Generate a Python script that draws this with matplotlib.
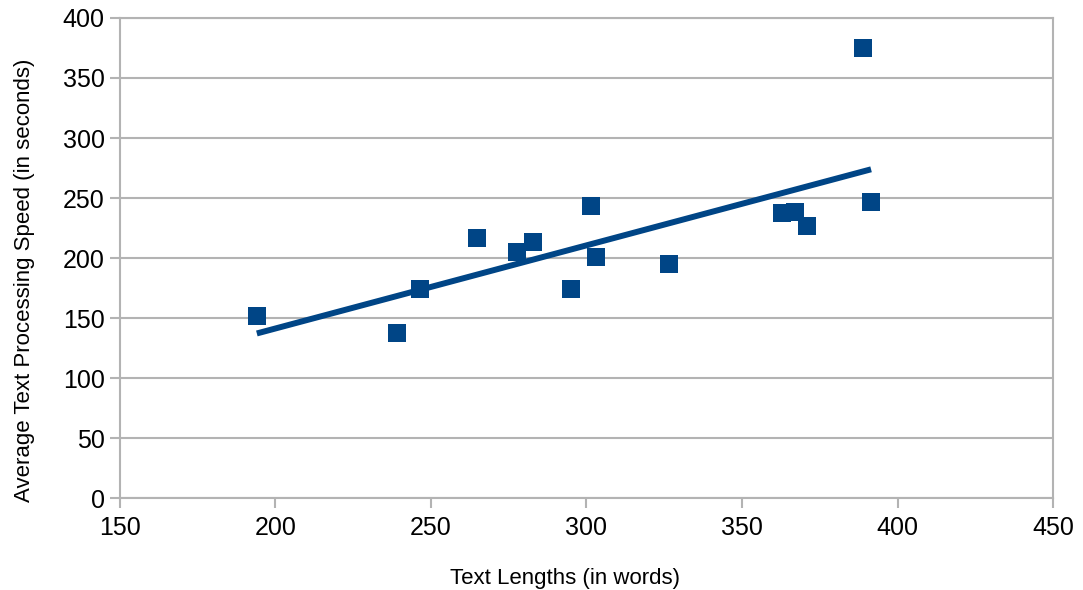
import numpy as np
import matplotlib
matplotlib.use("Agg")
import matplotlib.pyplot as plt

plt.rcParams['font.family'] = ['Liberation Sans', 'DejaVu Sans']

# Text length (words) vs. average processing time (seconds)
text_lengths = [194.0, 239.0, 246.5, 264.9, 277.8, 282.9, 294.9, 301.4,
                303.0, 326.5, 363.0, 367.0, 371.0, 388.9, 391.5]
processing_speed = [151.9, 137.8, 174.2, 216.7, 204.8, 213.3, 173.9, 243.6,
                    200.8, 194.8, 237.8, 238.1, 226.7, 374.8, 246.7]

x_ticks = [150, 200, 250, 300, 350, 400, 450]
y_ticks = [0, 50, 100, 150, 200, 250, 300, 350, 400]

blue = '#004586'
grid_gray = '#b3b3b3'

fig = plt.figure(figsize=(10.83, 5.90), dpi=100)
ax = fig.add_axes([0.1108, 0.1559, 0.8615, 0.8136])

x = np.array(text_lengths)
y = np.array(processing_speed)

# Linear trend line across the data range
slope, intercept = np.polyfit(x, y, 1)
xl = np.array([x.min(), x.max()])
ax.plot(xl, slope * xl + intercept, color=blue, lw=4.3, solid_capstyle='butt', zorder=3)

ax.plot(x, y, linestyle='none', marker='s', markersize=13.5,
        color=blue, markeredgewidth=0, zorder=4)

ax.set_xlim(150, 450)
ax.set_ylim(0, 400)
ax.set_xticks(x_ticks)
ax.set_yticks(y_ticks)

ax.yaxis.grid(True, color=grid_gray, lw=1.5)
ax.set_axisbelow(True)
for s in ax.spines.values():
    s.set_color(grid_gray)
    s.set_linewidth(1.5)

ax.tick_params(axis='both', direction='out', length=7, width=1.5,
               color=grid_gray, labelsize=18, labelcolor='black')
ax.tick_params(axis='x', pad=6)
ax.tick_params(axis='y', pad=4)

ax.set_xlabel('Text Lengths (in words)', fontsize=16)
ax.set_ylabel('Average Text Processing Speed (in seconds)', fontsize=16)
ax.xaxis.set_label_coords(0.477, -0.145)
ax.yaxis.set_label_coords(-0.0915, 0.454)

fig.savefig('out.png', dpi=100)
